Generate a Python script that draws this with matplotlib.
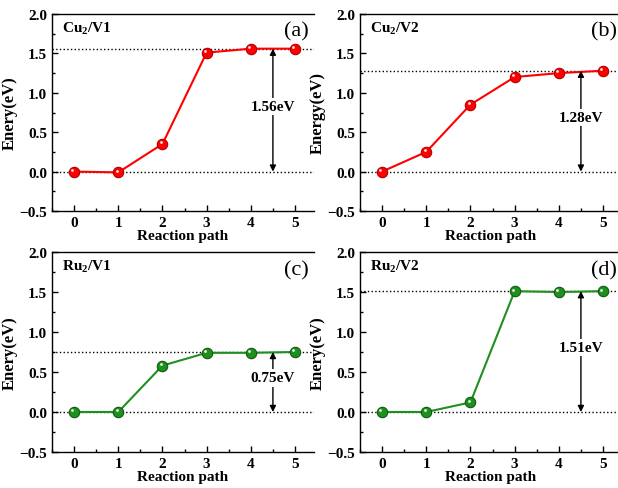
import matplotlib.pyplot as plt
import matplotlib.transforms as mtransforms
from matplotlib.ticker import MultipleLocator

plt.rcParams['font.family'] = ['Liberation Serif', 'DejaVu Serif']
plt.rcParams['font.weight'] = 'bold'
plt.rcParams['mathtext.fontset'] = 'custom'
plt.rcParams['mathtext.bf'] = 'Liberation Serif:bold'
plt.rcParams['mathtext.rm'] = 'Liberation Serif:bold'

# --- données ---
steps = [0, 1, 2, 3, 4, 5]
e_cu_v1 = [0.0, -0.01, 0.35, 1.51, 1.56, 1.56]
e_cu_v2 = [0.0, 0.25, 0.85, 1.20, 1.25, 1.28]
e_ru_v1 = [0.0, 0.0, 0.58, 0.74, 0.74, 0.75]
e_ru_v2 = [0.0, 0.0, 0.12, 1.51, 1.50, 1.51]

barriers = [1.56, 1.28, 0.75, 1.51]
names = [r'$\mathbf{Cu_2/V1}$', r'$\mathbf{Cu_2/V2}$', r'$\mathbf{Ru_2/V1}$', r'$\mathbf{Ru_2/V2}$']
tags = ['(a)', '(b)', '(c)', '(d)']
ylabels = ['Enery(eV)', 'Energy(eV)', 'Enery(eV)', 'Enery(eV)']
series = [e_cu_v1, e_cu_v2, e_ru_v1, e_ru_v2]
colors = ['#ff0000', '#ff0000', '#1f8f1f', '#1f8f1f']
edges = ['#b00000', '#b00000', '#0d5c0d', '#0d5c0d']

fig = plt.figure(figsize=(6.18, 4.89), dpi=100)
W, H = 618, 489
# positions en pixels (gauche, haut, bas)
pos = [(52, 15, 212), (360, 15, 212), (52, 253, 453), (360, 253, 453)]
ax_w = 262

for i in range(4):
    l, t, b = pos[i]
    ax = fig.add_axes([l / W, 1 - b / H, ax_w / W, (b - t) / H])
    y = series[i]
    ax.plot(steps, y, '-', color=colors[i], lw=1.5, zorder=3)
    ax.plot(steps, y, 'o', ms=7.5, mfc=colors[i], mec=edges[i], mew=0.8, zorder=4)
    # petit reflet sur les billes
    off = mtransforms.offset_copy(ax.transData, fig=fig, x=-1.2, y=1.2, units='points')
    ax.plot(steps, y, 'o', ms=2, mfc='white', mec='none', alpha=0.9, transform=off, zorder=5)

    top = barriers[i]
    ax.axhline(0, color='black', ls=':', lw=1, zorder=2)
    ax.axhline(top, color='black', ls=':', lw=1, zorder=2)
    ax.annotate('', xy=(4.5, top), xytext=(4.5, 0),
                arrowprops=dict(arrowstyle='<|-|>', color='black', lw=1,
                                mutation_scale=9, shrinkA=0, shrinkB=0))
    ax.text(4.5, top / 2 + 0.05, '%.2feV' % top, ha='center', va='center',
            fontsize=11, fontweight='bold',
            bbox=dict(facecolor='white', edgecolor='none', pad=1.5))

    ax.text(0.04, 0.93, names[i], transform=ax.transAxes, ha='left', va='center', fontsize=11)
    ax.text(5.02, 1.78, tags[i], ha='center', va='center', fontsize=16, fontweight='normal')

    ax.set_xlim(-0.5, 5.43)
    ax.set_ylim(-0.5, 2.0)
    ax.set_xticks(steps)
    ax.xaxis.set_minor_locator(MultipleLocator(0.5))
    ax.yaxis.set_major_locator(MultipleLocator(0.5))
    ax.yaxis.set_minor_locator(MultipleLocator(0.25))
    ax.tick_params(which='both', direction='in', labelsize=11, width=1)
    ax.tick_params(which='major', length=4)
    ax.tick_params(which='minor', length=2)
    ax.spines['right'].set_visible(False)
    for s in ['left', 'top', 'bottom']:
        ax.spines[s].set_linewidth(1)
    ax.set_xlabel('Reaction path', fontsize=11, fontweight='bold', labelpad=0)
    ax.set_ylabel(ylabels[i], fontsize=12, fontweight='bold', labelpad=1)

fig.savefig('out.png', dpi=100)
